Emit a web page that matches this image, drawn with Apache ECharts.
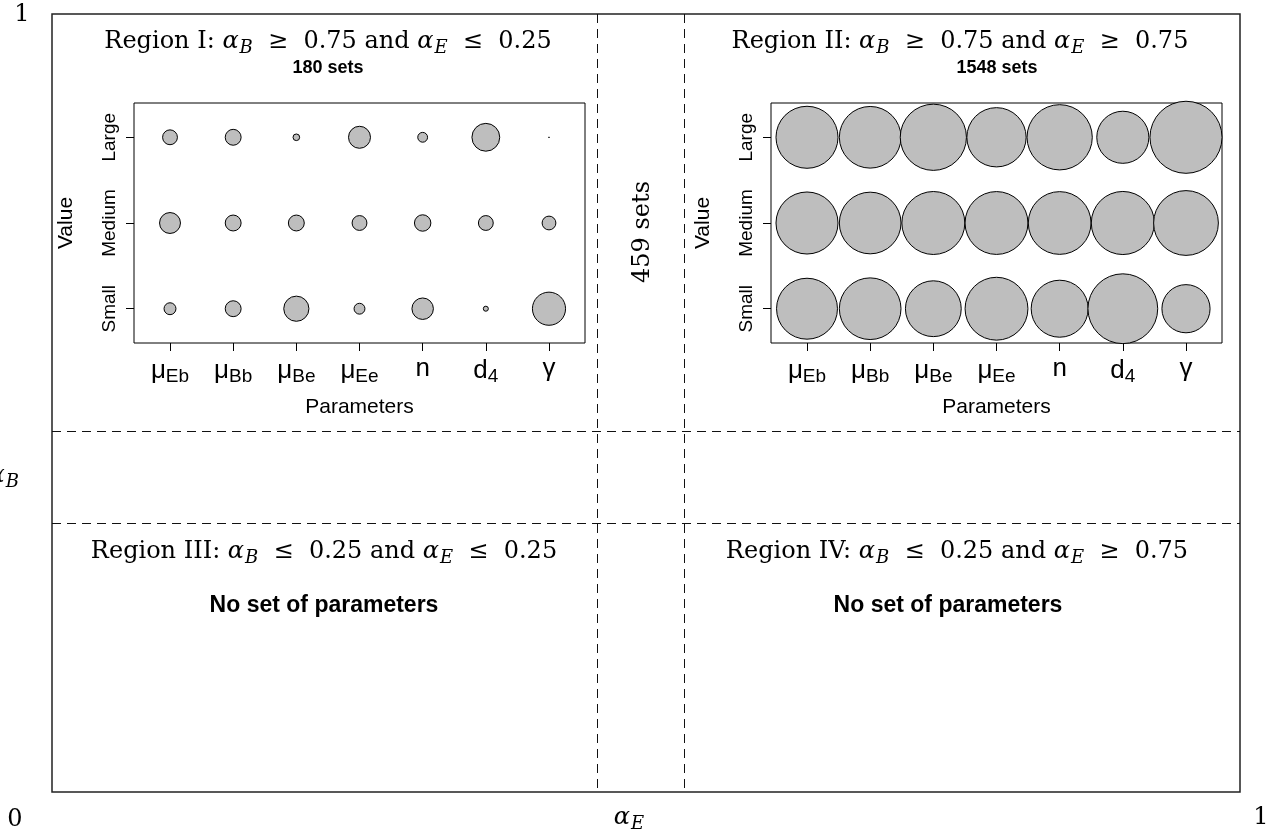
<!DOCTYPE html>
<html>
<head>
<meta charset="utf-8">
<title>Parameter sets by region</title>
<script src="https://cdn.jsdelivr.net/npm/echarts@6/dist/echarts.min.js"></script>
<style>
  html, body { margin: 0; padding: 0; background: #fff; }
  #chart { width: 1277px; height: 835px; }
</style>
</head>
<body>
<div id="chart"></div>
<script>
// Parameters on the x axis: main symbol and subscript
const paramSymbols = ['μ', 'μ', 'μ', 'μ', 'n', 'd', 'γ'];
const paramSubs = ['Eb', 'Bb', 'Be', 'Ee', '', '4', ''];
// Value levels on the y axis (bottom to top)
const levels = ['Small', 'Medium', 'Large'];

// Region I (alpha_B >= 0.75, alpha_E <= 0.25): number of sets per level
const region1Small  = [45, 60, 95, 41, 81, 19, 125];
const region1Medium = [79, 60, 60, 56, 62, 56, 52];
const region1Large  = [56, 60, 25, 83, 37, 105, 3];

// Region II (alpha_B >= 0.75, alpha_E >= 0.75): number of sets per level
const region2Small  = [510, 516, 467, 526, 477, 584, 403];
const region2Medium = [519, 516, 527, 526, 525, 528, 542];
const region2Large  = [519, 516, 554, 496, 546, 436, 603];

// Total sets: Region I, middle band, Region II
const setTotals = [180, 459, 1548];

// Region headings: name, first relation, bound, second relation, bound
const regionNames = ['I', 'II', 'III', 'IV'];
const regionRelB = ['≥', '≥', '≤', '≤'];
const regionBoundB = ['0.75', '0.75', '0.25', '0.25'];
const regionRelE = ['≤', '≥', '≤', '≥'];
const regionBoundE = ['0.25', '0.75', '0.25', '0.75'];
const emptyRegionText = 'No set of parameters';

const SERIF = '"DejaVu Serif", "Liberation Serif", serif';
const SANS = '"Liberation Sans", Arial, sans-serif';

const chart = echarts.init(document.getElementById('chart'), null, { renderer: 'canvas' });

function toPoints(small, medium, large) {
  const rows = [small, medium, large];
  const pts = [];
  rows.forEach((row, li) => {
    row.forEach((v, pi) => pts.push([pi + 1, li + 1, v]));
  });
  return pts;
}

function paramLabel(value) {
  const i = Math.round(value) - 1;
  const sym = paramSymbols[i];
  const sub = paramSubs[i];
  return sub ? '{m|' + sym + '}{s|' + sub + '}' : '{m|' + sym + '}';
}

function heading(i) {
  return '{r|Region ' + regionNames[i] + ': }{a|α}{s|B}{r|  ' + regionRelB[i] + '  ' + regionBoundB[i] +
         ' and }{a|α}{s|E}{r|  ' + regionRelE[i] + '  ' + regionBoundE[i] + '}';
}

const headingRich = {
  r: { fontFamily: SERIF, fontSize: 24, fill: '#000', color: '#000' },
  a: { fontFamily: SERIF, fontSize: 24, fontStyle: 'italic', fill: '#000', color: '#000' },
  s: { fontFamily: SERIF, fontSize: 18, fontStyle: 'italic', padding: [13, 0, 0, 1], fill: '#000', color: '#000' }
};

const gridBoxes = [
  { left: 134, top: 103, width: 451, height: 240 },
  { left: 771, top: 103, width: 451, height: 240 }
];

const tickValues = paramSymbols.map((_, i) => i + 1);
const levelValues = levels.map((_, i) => i + 1);

function xAxisFor(gi) {
  return {
    type: 'value', gridIndex: gi, min: 0.43, max: 7.57,
    name: 'Parameters', nameLocation: 'middle', nameGap: 54,
    nameTextStyle: { fontFamily: SANS, fontSize: 21, color: '#000' },
    axisLine: { show: false },
    splitLine: { show: false },
    axisTick: { show: true, customValues: tickValues, length: 8, inside: false,
                lineStyle: { color: '#000', width: 1 } },
    axisLabel: {
      customValues: tickValues, margin: 13, formatter: paramLabel,
      rich: {
        m: { fontFamily: SANS, fontSize: 26, color: '#000' },
        s: { fontFamily: SANS, fontSize: 19, color: '#000', padding: [11, 0, 0, 0] }
      }
    }
  };
}

function yAxisFor(gi) {
  return {
    type: 'value', gridIndex: gi, min: 0.6, max: 3.4,
    name: 'Value', nameLocation: 'middle', nameGap: 57,
    nameTextStyle: { fontFamily: SANS, fontSize: 21, color: '#000' },
    axisLine: { show: false },
    splitLine: { show: false },
    axisTick: { show: true, customValues: levelValues, length: 8, inside: false,
                lineStyle: { color: '#000', width: 1 } },
    axisLabel: {
      customValues: levelValues, margin: 15, rotate: 90,
      fontFamily: SANS, fontSize: 19, color: '#000',
      formatter: v => levels[Math.round(v) - 1]
    }
  };
}

// Bubble diameter in pixels per parameter set
const sizePerSet = [0.265, 0.1195];

function bubbleSeries(gi, pts) {
  return {
    type: 'scatter', xAxisIndex: gi, yAxisIndex: gi, data: pts, clip: false,
    symbol: 'circle',
    symbolSize: v => Math.max(v[2] * sizePerSet[gi], 0.5),
    itemStyle: { color: '#bebebe', borderColor: '#000', borderWidth: 1, opacity: 1 },
    emphasis: { disabled: true },
    silent: true
  };
}

// Frame of the alpha_E / alpha_B square and its dashed dividers
const frame = { x: 52, y: 14, w: 1188, h: 778 };
const splitX = [597.5, 684.5];
const splitY = [431.5, 523.5];
const dashStyle = { stroke: '#111', lineWidth: 1, lineDash: [9, 6] };

const graphics = [
  { type: 'rect', shape: { x: frame.x, y: frame.y, width: frame.w, height: frame.h },
    style: { fill: 'none', stroke: '#222', lineWidth: 1.5 }, silent: true },
  ...splitX.map(x => ({ type: 'line', silent: true,
    shape: { x1: x, y1: frame.y, x2: x, y2: frame.y + frame.h }, style: dashStyle })),
  ...splitY.map(y => ({ type: 'line', silent: true,
    shape: { x1: frame.x, y1: y, x2: frame.x + frame.w, y2: y }, style: dashStyle })),
  // corner values of the square
  { type: 'text', x: 22, y: 15, silent: true,
    style: { text: '1', font: '24px ' + SERIF, fill: '#000', align: 'center', verticalAlign: 'middle' } },
  { type: 'text', x: 15, y: 820, silent: true,
    style: { text: '0', font: '24px ' + SERIF, fill: '#000', align: 'center', verticalAlign: 'middle' } },
  { type: 'text', x: 1261, y: 818, silent: true,
    style: { text: '1', font: '24px ' + SERIF, fill: '#000', align: 'center', verticalAlign: 'middle' } },
  // axis names of the square
  { type: 'text', x: 629, y: 818, silent: true,
    style: { text: '{a|α}{s|E}', rich: headingRich, align: 'center', verticalAlign: 'middle' } },
  { type: 'text', x: 19, y: 476, silent: true,
    style: { text: '{a|α}{s|B}', rich: headingRich, align: 'right', verticalAlign: 'middle' } },
  // region headings
  { type: 'text', x: 328, y: 42, silent: true,
    style: { text: heading(0), rich: headingRich, align: 'center', verticalAlign: 'middle' } },
  { type: 'text', x: 960, y: 42, silent: true,
    style: { text: heading(1), rich: headingRich, align: 'center', verticalAlign: 'middle' } },
  { type: 'text', x: 324, y: 552, silent: true,
    style: { text: heading(2), rich: headingRich, align: 'center', verticalAlign: 'middle' } },
  { type: 'text', x: 957, y: 552, silent: true,
    style: { text: heading(3), rich: headingRich, align: 'center', verticalAlign: 'middle' } },
  // set counts
  { type: 'text', x: 328, y: 68, silent: true,
    style: { text: setTotals[0] + ' sets', font: 'bold 18px ' + SANS, fill: '#000', align: 'center', verticalAlign: 'middle' } },
  { type: 'text', x: 997, y: 68, silent: true,
    style: { text: setTotals[2] + ' sets', font: 'bold 18px ' + SANS, fill: '#000', align: 'center', verticalAlign: 'middle' } },
  { type: 'text', x: 643, y: 232, rotation: Math.PI / 2, silent: true,
    style: { text: setTotals[1] + ' sets', font: '24px ' + SERIF, fill: '#000', align: 'center', verticalAlign: 'middle' } },
  // empty regions
  { type: 'text', x: 324, y: 606, silent: true,
    style: { text: emptyRegionText, font: 'bold 23px ' + SANS, fill: '#000', align: 'center', verticalAlign: 'middle' } },
  { type: 'text', x: 948, y: 606, silent: true,
    style: { text: emptyRegionText, font: 'bold 23px ' + SANS, fill: '#000', align: 'center', verticalAlign: 'middle' } }
];

chart.setOption({
  animation: false,
  backgroundColor: '#fff',
  grid: gridBoxes.map(b => Object.assign({ show: true, borderColor: '#000', borderWidth: 1,
    backgroundColor: 'transparent', containLabel: false }, b)),
  xAxis: [xAxisFor(0), xAxisFor(1)],
  yAxis: [yAxisFor(0), yAxisFor(1)],
  series: [
    bubbleSeries(0, toPoints(region1Small, region1Medium, region1Large)),
    bubbleSeries(1, toPoints(region2Small, region2Medium, region2Large))
  ],
  graphic: graphics
});
</script>
</body>
</html>
